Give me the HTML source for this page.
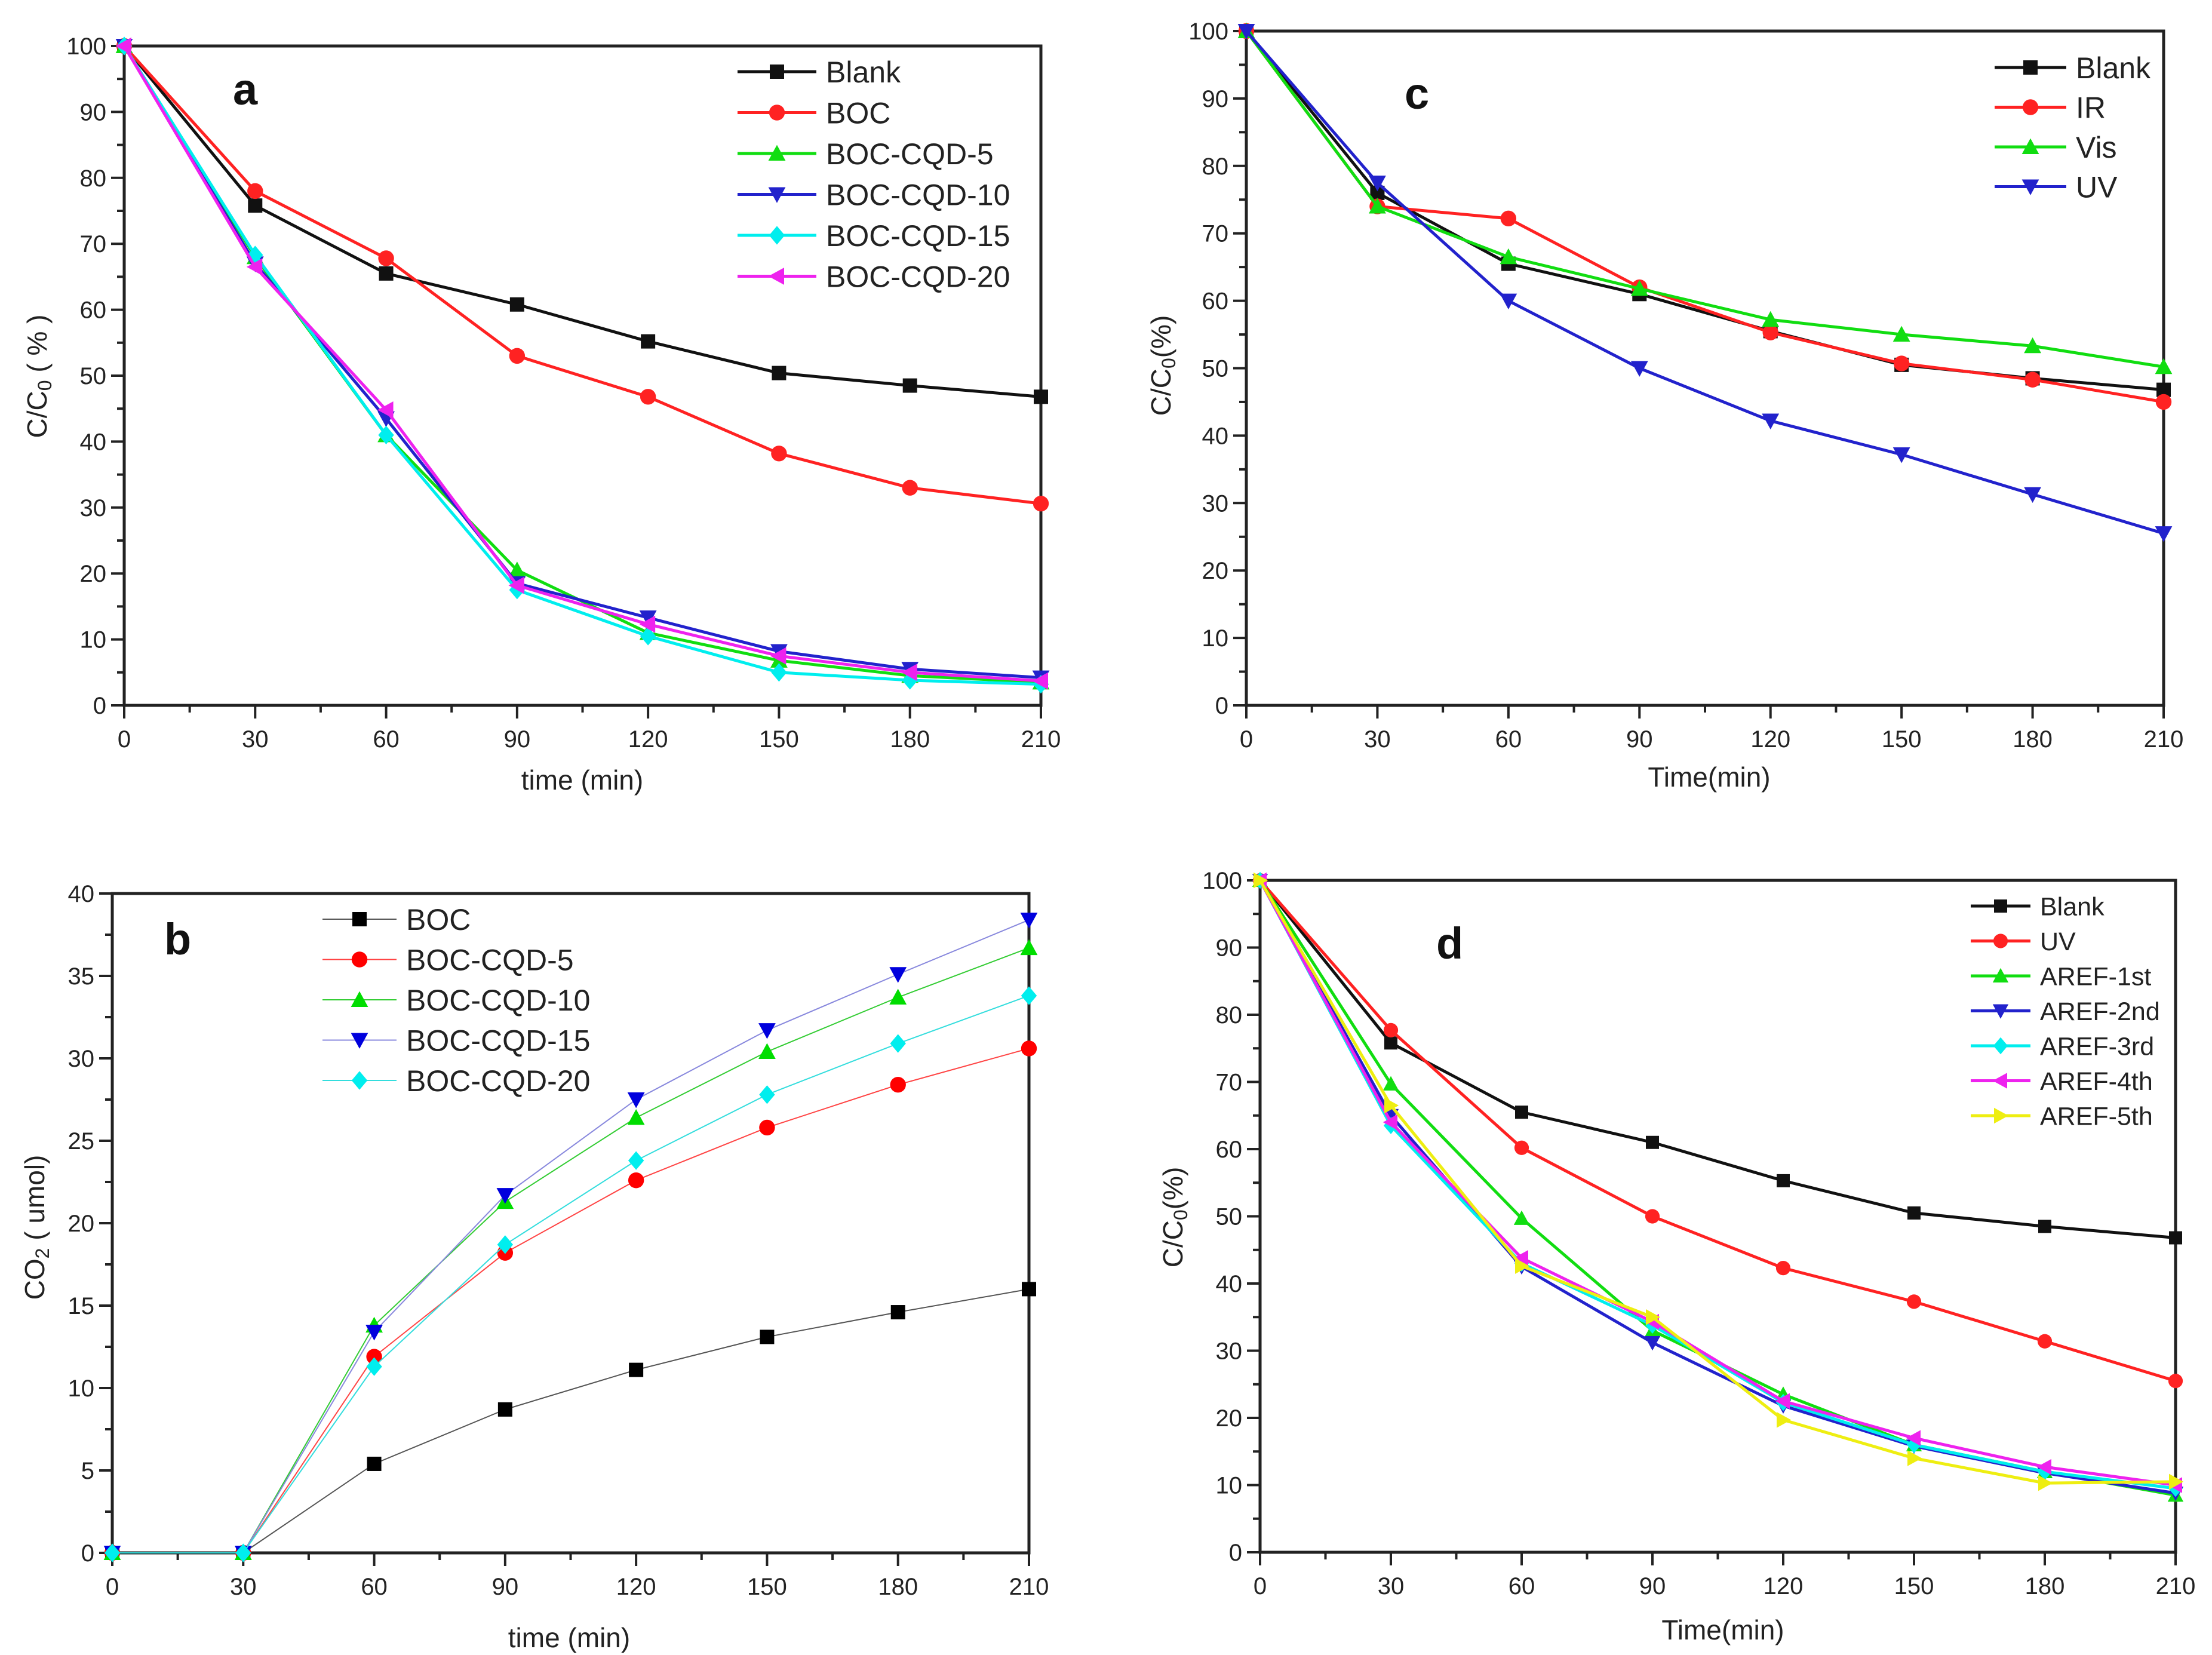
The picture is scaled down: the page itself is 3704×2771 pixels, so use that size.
<!DOCTYPE html>
<html><head><meta charset="utf-8"><style>
html,body{margin:0;padding:0;background:#fff;}
svg{display:block;font-family:"Liberation Sans",Arial,sans-serif;}
</style></head><body>
<svg id="fig" width="3704" height="2771" viewBox="0 0 3704 2771" xmlns="http://www.w3.org/2000/svg"></svg>
<script>
const timeCats=[0,30,60,90,120,150,180,210];
const xTicks=[0,30,60,90,120,150,180,210];
const yTicksPct=[0,10,20,30,40,50,60,70,80,90,100];
const yTicksCO2=[0,5,10,15,20,25,30,35,40];
// panel a
const aNames=["Blank","BOC","BOC-CQD-5","BOC-CQD-10","BOC-CQD-15","BOC-CQD-20"];
const aBlank=[100,75.8,65.5,60.8,55.2,50.4,48.5,46.8];
const aBOC=[100,78,67.8,53,46.8,38.2,33,30.6];
const aCQD5=[100,68,41,20.5,11,6.8,4.5,3.5];
const aCQD10=[100,67,43.5,18.5,13.3,8.2,5.5,4.2];
const aCQD15=[100,68.3,41,17.5,10.5,5,3.8,3.2];
const aCQD20=[100,66.5,44.8,18.2,12.3,7.5,5,3.7];
// panel c
const cNames=["Blank","IR","Vis","UV"];
const cBlank=[100,76,65.5,61,55.5,50.5,48.5,46.8];
const cIR=[100,74,72.2,62,55.3,50.7,48.3,45];
const cVis=[100,74,66.5,61.8,57.2,55,53.3,50.2];
const cUV=[100,77.5,60,50,42.2,37.2,31.3,25.5];
// panel b
const bNames=["BOC","BOC-CQD-5","BOC-CQD-10","BOC-CQD-15","BOC-CQD-20"];
const bBOC=[0,0,5.4,8.7,11.1,13.1,14.6,16];
const bCQD5=[0,0,11.9,18.2,22.6,25.8,28.4,30.6];
const bCQD10=[0,0,13.8,21.3,26.4,30.4,33.7,36.7];
const bCQD15=[0,0,13.4,21.7,27.5,31.7,35.1,38.4];
const bCQD20=[0,0,11.3,18.7,23.8,27.8,30.9,33.8];
// panel d
const dNames=["Blank","UV","AREF-1st","AREF-2nd","AREF-3rd","AREF-4th","AREF-5th"];
const dBlank=[100,75.8,65.5,61,55.3,50.5,48.5,46.8];
const dUV=[100,77.7,60.2,50,42.3,37.3,31.4,25.5];
const d1st=[100,69.7,49.7,33,23.5,16,12,8.5];
const d2nd=[100,65,42.5,31.2,21.8,15.8,11.8,8.8];
const d3rd=[100,63.5,43,33.8,22.3,16,12,9.5];
const d4th=[100,64,43.8,34.3,22.5,17,12.7,10];
const d5th=[100,66.5,42.6,35,19.7,14,10.3,10.5];

const NS="http://www.w3.org/2000/svg";
const svg=document.getElementById('fig');
function mk(tag,attrs,parent){const e=document.createElementNS(NS,tag);for(const k in attrs)e.setAttribute(k,attrs[k]);(parent||svg).appendChild(e);return e;}
function marker(g,type,x,y,s,color){
  let e;
  if(type==='sq')e=mk('rect',{x:x-s,y:y-s,width:2*s,height:2*s,fill:color},g);
  else if(type==='ci')e=mk('circle',{cx:x,cy:y,r:s*1.1,fill:color},g);
  else if(type==='up')e=mk('polygon',{points:`${x},${y-s*1.2} ${x-s*1.2},${y+s} ${x+s*1.2},${y+s}`,fill:color},g);
  else if(type==='dn')e=mk('polygon',{points:`${x},${y+s*1.2} ${x-s*1.2},${y-s} ${x+s*1.2},${y-s}`,fill:color},g);
  else if(type==='di')e=mk('polygon',{points:`${x},${y-s*1.3} ${x+s*1.1},${y} ${x},${y+s*1.3} ${x-s*1.1},${y}`,fill:color},g);
  else if(type==='lt')e=mk('polygon',{points:`${x-s*1.2},${y} ${x+s},${y-s*1.2} ${x+s},${y+s*1.2}`,fill:color},g);
  else if(type==='rt')e=mk('polygon',{points:`${x+s*1.2},${y} ${x-s},${y-s*1.2} ${x-s},${y+s*1.2}`,fill:color},g);
  
  
}
function panel(o){
  const g=mk('g',{});
  
  
  const X=v=>o.x0+(v-0)/210*(o.x1-o.x0);
  const Y=v=>o.y0-(v-o.ymin)/(o.ymax-o.ymin)*(o.y0-o.y1);
  // frame
  const fr=mk('rect',{x:o.x0,y:o.y1,width:o.x1-o.x0,height:o.y0-o.y1,fill:'none',stroke:'#222','stroke-width':5},g);
  
  
  // x ticks
  const xa=mk('g',{},g);
  
  
  for(let v=0;v<=210;v+=15){const maj=v%30===0;mk('line',{x1:X(v),x2:X(v),y1:o.y0,y2:o.y0+(maj?22:12),stroke:'#222','stroke-width':4},xa);}
  xTicks.forEach(v=>{const t=mk('text',{x:X(v),y:o.y0+70,'text-anchor':'middle','font-size':40,fill:'#222'},xa);t.textContent=v;
    
    });
  const ya=mk('g',{},g);
  
  
  const yt=o.yticks, st=yt[1]-yt[0];
  for(let v=o.ymin;v<=o.ymax+1e-9;v+=st/2){const maj=Math.abs((v/st)-Math.round(v/st))<1e-6;mk('line',{x1:o.x0,x2:o.x0-(maj?22:12),y1:Y(v),y2:Y(v),stroke:'#222','stroke-width':4},ya);}
  yt.forEach(v=>{const t=mk('text',{x:o.x0-30,y:Y(v)+14,'text-anchor':'end','font-size':40,fill:'#222'},ya);t.textContent=v;
    
    });
  // titles
  const xt=mk('text',{x:o.xtx,y:o.xty,'text-anchor':'middle','font-size':46,fill:'#222'},g);xt.textContent=o.xtitle;
  
  
  const ytl=mk('text',{x:0,y:0,'text-anchor':'middle','font-size':46,fill:'#222',transform:`translate(${o.ytx},${o.yty}) rotate(-90)`},g);ytl.innerHTML=o.ytitle;
  
  
  const lt=mk('text',{x:o.lx,y:o.ly,'font-size':74,'font-weight':'bold',fill:'#111'},g);lt.textContent=o.id;
  
  
  // series
  o.series.forEach((s,i)=>{
    const sg=mk('g',{},g);
    
    
    const pts=s.data.map((v,j)=>X(timeCats[j])+','+Y(v)).join(' ');
    mk('polyline',{points:pts,fill:'none',stroke:s.c,'stroke-width':o.lw,'stroke-linejoin':'round'},sg);
    s.data.forEach((v,j)=>marker(sg,s.m,X(timeCats[j]),Y(v),o.ms,s.mc||s.c));
    // legend
    const le=mk('g',{},g);
    
    
    const ly=o.legY+i*o.legDy;
    mk('line',{x1:o.legX,x2:o.legX+o.legW,y1:ly,y2:ly,stroke:s.c,'stroke-width':o.lw},le);
    marker(le,s.m,o.legX+o.legW/2,ly,o.ms,s.mc||s.c);
    const tt=mk('text',{x:o.legX+o.legW+16,y:ly+o.legF*0.36,'font-size':o.legF,fill:'#222'},le);tt.textContent=s.name;
  });
}
panel({id:'a',x0:208,x1:1743,y0:1181,y1:77,ymin:0,ymax:100,yticks:yTicksPct,
  xtitle:'time (min)',xtx:975,xty:1322,ytitle:'C/C<tspan font-size="32" dy="8">0</tspan><tspan dy="-8"> ( % )</tspan>',ytx:78,yty:630,lx:390,ly:175,
  lw:5,ms:12,legX:1235,legW:132,legY:120,legDy:68.5,legF:50,
  series:[{name:aNames[0],data:aBlank,c:'#111',m:'sq'},{name:aNames[1],data:aBOC,c:'#f22',m:'ci'},{name:aNames[2],data:aCQD5,c:'#1d1',m:'up'},
  {name:aNames[3],data:aCQD10,c:'#22c',m:'dn'},{name:aNames[4],data:aCQD15,c:'#0ee',m:'di'},{name:aNames[5],data:aCQD20,c:'#e2e',m:'lt'}]});
panel({id:'c',x0:2087,x1:3623,y0:1181,y1:52,ymin:0,ymax:100,yticks:yTicksPct,
  xtitle:'Time(min)',xtx:2862,xty:1317,ytitle:'C/C<tspan font-size="32" dy="8">0</tspan><tspan dy="-8">(%)</tspan>',ytx:1960,yty:612,lx:2352,ly:182,
  lw:5,ms:12,legX:3340,legW:120,legY:113,legDy:66.5,legF:50,
  series:[{name:cNames[0],data:cBlank,c:'#111',m:'sq'},{name:cNames[1],data:cIR,c:'#f22',m:'ci'},{name:cNames[2],data:cVis,c:'#1d1',m:'up'},{name:cNames[3],data:cUV,c:'#22c',m:'dn'}]});
panel({id:'b',x0:188,x1:1723,y0:2600,y1:1496,ymin:0,ymax:40,yticks:yTicksCO2,
  xtitle:'time (min)',xtx:953,xty:2758,ytitle:'CO<tspan font-size="32" dy="8">2</tspan><tspan dy="-8"> ( umol)</tspan>',ytx:74,yty:2055,lx:275,ly:1598,
  lw:2,ms:12,legX:540,legW:124,legY:1539,legDy:67.5,legF:50,
  series:[{name:bNames[0],data:bBOC,c:'#555',m:'sq',mc:'#000'},{name:bNames[1],data:bCQD5,c:'#f44',m:'ci',mc:'#f00'},{name:bNames[2],data:bCQD10,c:'#3c3',m:'up',mc:'#0d0'},
  {name:bNames[3],data:bCQD15,c:'#88d',m:'dn',mc:'#00d'},{name:bNames[4],data:bCQD20,c:'#3dd',m:'di',mc:'#0ee'}]});
panel({id:'d',x0:2110,x1:3643,y0:2599,y1:1474,ymin:0,ymax:100,yticks:yTicksPct,
  xtitle:'Time(min)',xtx:2885,xty:2745,ytitle:'C/C<tspan font-size="32" dy="8">0</tspan><tspan dy="-8">(%)</tspan>',ytx:1980,yty:2038,lx:2405,ly:1605,
  lw:5,ms:11,legX:3300,legW:100,legY:1517,legDy:58.5,legF:43,
  series:[{name:dNames[0],data:dBlank,c:'#111',m:'sq'},{name:dNames[1],data:dUV,c:'#f22',m:'ci'},{name:dNames[2],data:d1st,c:'#1d1',m:'up'},
  {name:dNames[3],data:d2nd,c:'#22c',m:'dn'},{name:dNames[4],data:d3rd,c:'#0ee',m:'di'},{name:dNames[5],data:d4th,c:'#e2e',m:'lt'},{name:dNames[6],data:d5th,c:'#ee1',m:'rt'}]});
</script>
</body></html>
